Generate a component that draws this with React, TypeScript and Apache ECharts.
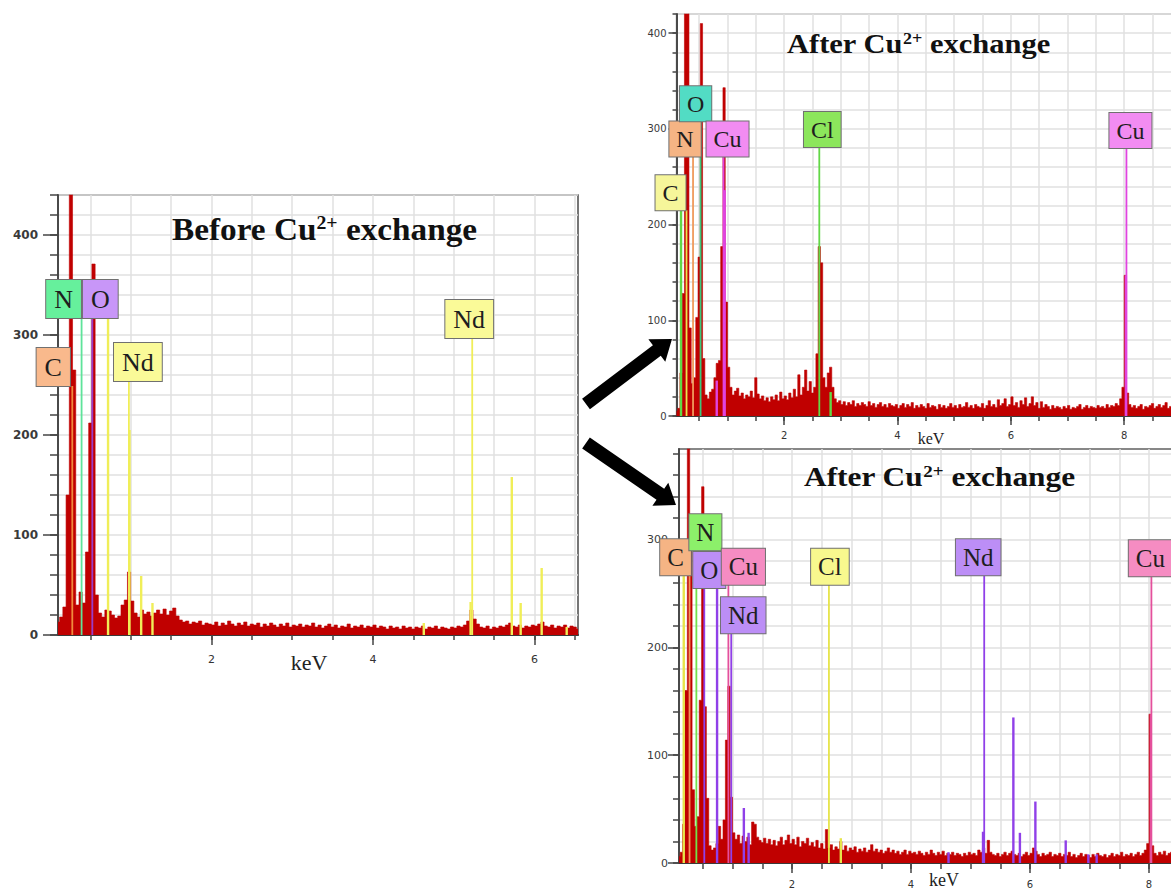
import React, { useEffect, useRef } from "react";
import * as echarts from "echarts";

// Spectrum channel calibration (keV): centre of first channel and channel width
const CH_START = 0.1;
const CH_WIDTH = 0.04;

// ---- Before Cu2+ exchange ----
const beforeCounts = [
  13, 18, 28, 140, 620, 265, 30, 43, 32, 83, // 0.10
  212, 371, 40, 22, 18, 25, 24, 20, 17, 19, // 0.50
  30, 35, 63, 34, 22, 18, 25, 21, 23, 19, // 0.90
  22, 25, 21, 26, 20, 24, 27, 19, 15, 13, // 1.30
  14, 11, 13, 12, 14, 10, 12, 11, 10, 13, // 1.70
  9, 12, 10, 14, 11, 9, 12, 10, 13, 9, // 2.10
  11, 10, 12, 8, 11, 9, 12, 10, 8, 11, // 2.50
  9, 12, 8, 10, 9, 11, 8, 10, 9, 12, // 2.90
  8, 10, 7, 9, 11, 8, 10, 7, 9, 8, // 3.30
  11, 7, 9, 8, 10, 7, 9, 8, 10, 7, // 3.70
  9, 8, 6, 9, 7, 8, 6, 9, 7, 8, // 4.10
  6, 8, 7, 9, 6, 8, 7, 9, 6, 8, // 4.50
  7, 6, 8, 7, 9, 8, 10, 14, 25, 16, // 4.90
  11, 8, 7, 9, 6, 8, 7, 9, 8, 10, // 5.30
  12, 9, 8, 10, 7, 9, 8, 10, 9, 11, // 5.70
  13, 9, 8, 10, 7, 9, 8, 10, 7, 9, // 6.10
  8, 6, // 6.50
];

// [element, energy keV, marker height counts]
type Line = [string, number, number];

const beforeTags: Line[] = [
  ["C", 0.277, 249],
  ["N", 0.392, 317],
  ["O", 0.525, 317],
  ["Nd", 0.978, 254],
  ["Nd", 5.23, 297],
];
const beforeLines: Line[] = [
  ["Nd", 0.72, 317],
  ["Nd", 0.985, 205],
  ["Nd", 1.13, 59],
  ["Nd", 1.27, 32],
  ["Nd", 4.63, 12],
  ["Nd", 5.21, 33],
  ["Nd", 5.72, 158],
  ["Nd", 5.83, 32],
  ["Nd", 6.09, 67],
  ["Nd", 6.4, 8],
];

// ---- After Cu2+ exchange (upper) ----
const afterCountsA = [
  5, 8, 45, 128, 600, 520, 92, 34, 40, 103, // 0.10
  166, 410, 60, 22, 18, 25, 28, 40, 55, 58, // 0.50
  177, 343, 119, 51, 30, 22, 26, 29, 21, 24, // 0.90
  18, 22, 20, 26, 19, 40, 23, 18, 21, 16, // 1.30
  19, 15, 20, 17, 22, 16, 25, 18, 21, 17, // 1.70
  24, 19, 28, 20, 43, 22, 30, 48, 26, 36, // 2.10
  24, 30, 65, 177, 160, 40, 30, 45, 51, 30, // 2.50
  18, 14, 16, 12, 15, 11, 14, 12, 16, 10, // 2.90
  13, 11, 14, 12, 10, 15, 11, 13, 9, 12, // 3.30
  14, 10, 12, 9, 13, 11, 10, 12, 8, 11, // 3.70
  13, 9, 12, 10, 14, 8, 11, 9, 12, 10, // 4.10
  8, 13, 9, 11, 10, 7, 12, 9, 11, 8, // 4.50
  10, 13, 9, 11, 8, 12, 9, 10, 14, 9, // 4.90
  11, 8, 12, 10, 9, 13, 8, 11, 16, 10, // 5.30
  12, 9, 17, 11, 13, 18, 10, 12, 20, 11, // 5.70
  14, 9, 16, 12, 19, 10, 13, 20, 11, 14, // 6.10
  8, 15, 9, 12, 10, 7, 11, 8, 10, 9, // 6.50
  7, 10, 8, 11, 7, 9, 8, 10, 12, 7, // 6.90
  9, 11, 8, 10, 9, 8, 11, 9, 10, 8, // 7.30
  12, 9, 11, 10, 13, 11, 18, 30, 147, 24, // 7.70
  12, 9, 11, 8, 10, 12, 7, 10, 9, 11, // 8.10
  13, 8, 10, 12, 9, 11, 14, 8, 10, 12, // 8.50
  9, // 8.90
];
const afterTagsA: Line[] = [
  ["C", 0.277, 215],
  ["N", 0.392, 271],
  ["O", 0.525, 308],
  ["Cu", 0.93, 271],
  ["Cl", 2.62, 281],
  ["Cu", 8.04, 280],
];
const afterLinesA: Line[] = [
  ["Cl", 0.18, 218],
  ["Cl", 2.82, 25],
  ["Cu", 0.81, 37],
  ["Cu", 0.95, 236],
  ["Cu", 8.03, 147],
];

// ---- After Cu2+ exchange (lower) ----
const afterCountsB = [
  6, 10, 36, 160, 600, 300, 68, 34, 43, 151, // 0.10
  349, 145, 60, 16, 12, 14, 18, 34, 22, 40, // 0.50
  114, 164, 61, 28, 22, 26, 18, 25, 20, 24, // 0.90
  17, 38, 36, 24, 21, 19, 23, 18, 22, 17, // 1.30
  21, 16, 20, 24, 17, 21, 26, 18, 22, 17, // 1.70
  24, 15, 20, 18, 23, 16, 19, 15, 21, 14, // 2.10
  18, 13, 31, 14, 17, 12, 15, 13, 20, 12, // 2.50
  16, 11, 14, 12, 15, 10, 13, 11, 14, 10, // 2.90
  12, 17, 11, 13, 10, 12, 9, 11, 14, 10, // 3.30
  12, 9, 11, 8, 10, 12, 8, 11, 9, 10, // 3.70
  8, 11, 9, 7, 10, 8, 12, 9, 7, 10, // 4.10
  8, 11, 7, 9, 8, 10, 7, 9, 8, 6, // 4.50
  9, 7, 10, 8, 9, 7, 12, 10, 14, 9, // 4.90
  21, 10, 8, 7, 9, 6, 8, 10, 7, 9, // 5.30
  11, 8, 7, 9, 6, 8, 10, 7, 9, 14, // 5.70
  11, 8, 6, 9, 7, 8, 10, 6, 8, 7, // 6.10
  9, 6, 8, 7, 10, 6, 8, 5, 7, 9, // 6.50
  6, 8, 7, 5, 8, 6, 9, 7, 6, 8, // 6.90
  5, 7, 9, 6, 8, 7, 10, 6, 8, 7, // 7.30
  9, 6, 8, 10, 7, 9, 12, 18, 138, 16, // 7.70
  9, 7, 10, 8, 11, 7, 9, 10, 8, // 8.10
];
const afterTagsB: Line[] = [
  ["C", 0.277, 267],
  ["N", 0.392, 290],
  ["O", 0.525, 255],
  ["Cu", 0.93, 258],
  ["Nd", 0.978, 213],
  ["Cl", 2.62, 258],
  ["Nd", 5.23, 267],
  ["Cu", 8.04, 266],
];
const afterLinesB: Line[] = [
  ["Cl", 0.18, 275],
  ["Cl", 2.82, 23],
  ["Nd", 0.74, 255],
  ["Nd", 1.19, 51],
  ["Nd", 1.27, 28],
  ["Nd", 4.63, 10],
  ["Nd", 5.21, 29],
  ["Nd", 5.72, 135],
  ["Nd", 5.83, 28],
  ["Nd", 6.09, 57],
  ["Nd", 6.6, 21],
  ["Nd", 6.98, 8],
  ["Nd", 7.12, 8],
  ["Cu", 8.03, 138],
];

// Axis tick values (keV and counts)
const xLabelsBefore = [2, 4, 6];
const xLabelsAfter = [2, 4, 6, 8];
const yLabelsBefore = [0, 100, 200, 300, 400];
const yLabelsAfterA = [0, 100, 200, 300, 400];
const yLabelsAfterB = [0, 100, 200, 300];

const RED = "#c00000";
const SERIF = '"Liberation Serif", "Times New Roman", serif';
const SANS = '"DejaVu Sans", Verdana, sans-serif';

function steps(from: number, to: number, step: number) {
  const out: number[] = [];
  for (let v = from; v <= to + 1e-9; v += step) out.push(+v.toFixed(3));
  return out;
}

// Element colours per panel: [tag box fill, marker line]
const coloursBefore: Record<string, [string, string]> = {
  C: ["#f9b98c", "#f08a3c"],
  N: ["#66f09c", "#5ee39a"],
  O: ["#c896f8", "#9a3cc8"],
  Nd: ["#fafa98", "#f0ee58"],
};
const coloursAfterA: Record<string, [string, string]> = {
  C: ["#f6f69a", "#e8e650"],
  N: ["#f5b484", "#f09a5c"],
  O: ["#52dcc4", "#3cc67c"],
  Cu: ["#f28cf2", "#e044e0"],
  Cl: ["#8ce65c", "#62d846"],
};
const coloursAfterB: Record<string, [string, string]> = {
  C: ["#f5b484", "#f0965a"],
  N: ["#8cf06a", "#72e04a"],
  O: ["#bc8ef6", "#9040e8"],
  Cu: ["#f58cc2", "#e4509c"],
  Nd: ["#bc8ef6", "#9040e8"],
  Cl: ["#f8f88e", "#e6e44a"],
};

interface Panel {
  counts: number[];
  tags: Line[];
  lines: Line[];
  tagShift: number[];
  colours: Record<string, [string, string]>;
  box: [number, number, number, number];
  frame: string;
  xMax: number;
  yMax: number;
  xTicks: number[];
  xLabels: number[];
  yTicks: number[];
  yLabels: number[];
  look: {
    yFont: number;
    yWeight: string;
    yMargin: number;
    yMinor: number;
    yMajor: number;
    xFont: number;
    xMargin: number;
    xMinor: number;
    xMajor: number;
    tagFont: number;
    tagLine: number;
    tagPad: number[];
  };
}

const panels: Panel[] = [
  {
    counts: beforeCounts,
    tags: beforeTags,
    lines: beforeLines,
    tagShift: [-19, -18, 8, 9, -3],
    colours: coloursBefore,
    box: [58, 195, 520, 440],
    frame: "#4a4a4a",
    xMax: 6.54,
    yMax: 440,
    xTicks: steps(0.5, 6.5, 0.5),
    xLabels: xLabelsBefore,
    yTicks: steps(0, 440, 20),
    yLabels: yLabelsBefore,
    look: {
      yFont: 12, yWeight: "bold", yMargin: 20, yMinor: 8, yMajor: 15,
      xFont: 11, xMargin: 19, xMinor: 5, xMajor: 10,
      tagFont: 26, tagLine: 28, tagPad: [5, 8, 5, 8],
    },
  },
  {
    counts: afterCountsA,
    tags: afterTagsA,
    lines: afterLinesA,
    tagShift: [-16, -8, -5, 4, 3, 4],
    colours: coloursAfterA,
    box: [676.5, 14, 561, 402],
    frame: "#a8a8a8",
    xMax: 10,
    yMax: 420,
    xTicks: steps(0.5, 9.5, 0.5),
    xLabels: xLabelsAfter,
    yTicks: steps(0, 420, 20),
    yLabels: yLabelsAfterA,
    look: {
      yFont: 10, yWeight: "normal", yMargin: 10, yMinor: 4, yMajor: 8,
      xFont: 10, xMargin: 14, xMinor: 5, xMajor: 9,
      tagFont: 24, tagLine: 25, tagPad: [5, 7, 5, 7],
    },
  },
  {
    counts: afterCountsB,
    tags: afterTagsB,
    lines: afterLinesB,
    tagShift: [-14, 9, 5, 15, 12, 1, -6, -1],
    colours: coloursAfterB,
    box: [679, 449, 589, 414],
    frame: "#606060",
    xMax: 10,
    yMax: 384,
    xTicks: steps(0.5, 9.5, 0.5),
    xLabels: xLabelsAfter,
    yTicks: steps(0, 380, 20),
    yLabels: yLabelsAfterB,
    look: {
      yFont: 11, yWeight: "normal", yMargin: 11, yMinor: 6, yMajor: 11,
      xFont: 10, xMargin: 16, xMinor: 6, xMajor: 10,
      tagFont: 25, tagLine: 26, tagPad: [5, 7, 5, 7],
    },
  },
];

function arrowPoints(tail: number[], tip: number[], shaftW: number, headW: number, headL: number) {
  const dx = tip[0] - tail[0];
  const dy = tip[1] - tail[1];
  const len = Math.hypot(dx, dy);
  const ux = dx / len, uy = dy / len;
  const nx = -uy, ny = ux;
  const bx = tip[0] - ux * headL, by = tip[1] - uy * headL;
  return [
    [tail[0] + (nx * shaftW) / 2, tail[1] + (ny * shaftW) / 2],
    [bx + (nx * shaftW) / 2, by + (ny * shaftW) / 2],
    [bx + (nx * headW) / 2, by + (ny * headW) / 2],
    [tip[0], tip[1]],
    [bx - (nx * headW) / 2, by - (ny * headW) / 2],
    [bx - (nx * shaftW) / 2, by - (ny * shaftW) / 2],
    [tail[0] - (nx * shaftW) / 2, tail[1] - (ny * shaftW) / 2],
  ];
}

function titleText(lead: string, x: number, y: number, size: number, sx: number) {
  return {
    type: "text",
    x,
    y,
    scaleX: sx,
    z: 20,
    silent: true,
    style: {
      text: `{a|${lead} Cu}{s|2+}{a| exchange}`,
      verticalAlign: "middle",
      align: "left",
      rich: {
        a: { fontFamily: SERIF, fontWeight: "bold", fontSize: size, lineHeight: size, fill: "#111", color: "#111" },
        s: {
          fontFamily: SERIF, fontWeight: "bold", fontSize: Math.round(size * 0.6),
          lineHeight: Math.round(size * 0.42), verticalAlign: "top", fill: "#111", color: "#111",
        },
      },
    },
  };
}

function keVText(x: number, y: number, size: number) {
  return {
    type: "text",
    x,
    y,
    z: 20,
    silent: true,
    style: { text: "keV", fontFamily: SERIF, fontSize: size, fill: "#222", align: "center", verticalAlign: "middle" },
  };
}

function buildOption() {
  const option: any = {
    animation: false,
    backgroundColor: "#ffffff",
    grid: [],
    xAxis: [],
    yAxis: [],
    series: [],
    graphic: [],
  };

  panels.forEach((p, k) => {
    const L = p.look;
    option.grid.push({
      left: p.box[0], top: p.box[1], width: p.box[2], height: p.box[3],
      show: true, borderColor: p.frame, borderWidth: 1.5, backgroundColor: "#ffffff",
      containLabel: false, outerBoundsMode: "none",
    });
    const split = { show: true, lineStyle: { color: "#e0e0e0", width: 1.5 } };
    option.xAxis.push({
      type: "value", gridIndex: k, min: CH_START, max: p.xMax, position: "bottom",
      axisLine: { show: true, onZero: false, lineStyle: { color: "#3a3a3a", width: 2 } },
      axisTick: { show: true, length: L.xMinor, customValues: p.xTicks, lineStyle: { color: "#444", width: 1.5 } },
      axisLabel: {
        show: true, customValues: p.xLabels, margin: L.xMargin, fontSize: L.xFont,
        fontFamily: SANS, color: "#333",
      },
      splitLine: split,
    });
    option.xAxis.push({
      type: "value", gridIndex: k, min: CH_START, max: p.xMax, position: "bottom",
      axisLine: { show: false },
      axisTick: { show: true, length: L.xMajor, customValues: p.xLabels, lineStyle: { color: "#444", width: 1.5 } },
      axisLabel: { show: false },
      splitLine: { show: false },
    });
    option.yAxis.push({
      type: "value", gridIndex: k, min: 0, max: p.yMax, position: "left",
      axisLine: { show: true, onZero: false, lineStyle: { color: "#4a4a4a", width: 2 } },
      axisTick: { show: true, length: L.yMinor, customValues: p.yTicks, lineStyle: { color: "#444", width: 1.5 } },
      axisLabel: {
        show: true, customValues: p.yLabels, margin: L.yMargin, fontSize: L.yFont,
        fontWeight: L.yWeight, fontFamily: SANS, color: "#3a3a3a",
      },
      splitLine: split,
    });
    option.yAxis.push({
      type: "value", gridIndex: k, min: 0, max: p.yMax, position: "left", offset: 0,
      axisLine: { show: false },
      axisTick: { show: true, length: L.yMajor, customValues: p.yLabels, lineStyle: { color: "#444", width: 1.5 } },
      axisLabel: { show: false },
      splitLine: { show: false },
    });

    const xi = 2 * k;
    // measured spectrum, one step per channel
    option.series.push({
      type: "line", xAxisIndex: xi, yAxisIndex: xi, step: "middle", symbol: "none", silent: true,
      z: 2, clip: true,
      data: p.counts.map((c, i) => [+(CH_START + i * CH_WIDTH).toFixed(2), c]),
      lineStyle: { color: RED, width: 0.6 },
      areaStyle: { color: RED, opacity: 1 },
    });

    // element marker lines
    const allLines = [...p.lines, ...p.tags];
    option.series.push({
      type: "custom", xAxisIndex: xi, yAxisIndex: xi, z: 3, clip: true, silent: true,
      data: allLines.map((l) => [l[1], l[2]]),
      renderItem: (params: any, api: any) => {
        const l = allLines[params.dataIndex];
        const isTag = params.dataIndex >= p.lines.length;
        const a = api.coord([api.value(0), 0]);
        const b = api.coord([api.value(0), api.value(1)]);
        return {
          type: "line",
          shape: { x1: a[0], y1: a[1], x2: b[0], y2: b[1] },
          style: { stroke: p.colours[l[0]][1], lineWidth: isTag ? 1.8 : 2.4 },
        };
      },
    });

    // element tag boxes sitting on top of their marker lines
    option.series.push({
      type: "custom", xAxisIndex: xi, yAxisIndex: xi, z: 5, clip: false, silent: true,
      data: p.tags.map((t) => [t[1], t[2]]),
      renderItem: (params: any, api: any) => {
        const t = p.tags[params.dataIndex];
        const pt = api.coord([api.value(0), api.value(1)]);
        return {
          type: "text",
          x: pt[0] + p.tagShift[params.dataIndex],
          y: pt[1],
          style: {
            text: t[0],
            fontFamily: SERIF,
            fontSize: L.tagFont,
            lineHeight: L.tagLine,
            fill: "#1e1e1e",
            align: "center",
            verticalAlign: "bottom",
            backgroundColor: p.colours[t[0]][0],
            borderColor: "#707070",
            borderWidth: 1,
            padding: L.tagPad,
          },
        };
      },
    });
  });

  option.graphic = [
    titleText("Before", 172, 229, 32, 1.04),
    titleText("After", 787, 44, 27, 1.13),
    titleText("After", 804, 477, 28, 1.12),
    keVText(309, 662, 22),
    keVText(931, 438, 16),
    keVText(944, 880, 18),
    {
      type: "polygon", z: 20, silent: true,
      shape: { points: arrowPoints([586, 404], [672, 339], 13, 28, 19) },
      style: { fill: "#000" },
    },
    {
      type: "polygon", z: 20, silent: true,
      shape: { points: arrowPoints([586, 443], [676, 505], 13.5, 28, 19) },
      style: { fill: "#000" },
    },
  ];
  return option;
}

export default function App() {
  const ref = useRef<HTMLDivElement>(null);
  useEffect(() => {
    if (!ref.current) return;
    const chart = echarts.init(ref.current, undefined, { renderer: "svg", width: 1171, height: 892 });
    chart.setOption(buildOption());
    return () => chart.dispose();
  }, []);
  return (
    <div
      ref={ref}
      style={{ position: "fixed", left: 0, top: 0, width: 1171, height: 892, background: "#ffffff" }}
    />
  );
}
